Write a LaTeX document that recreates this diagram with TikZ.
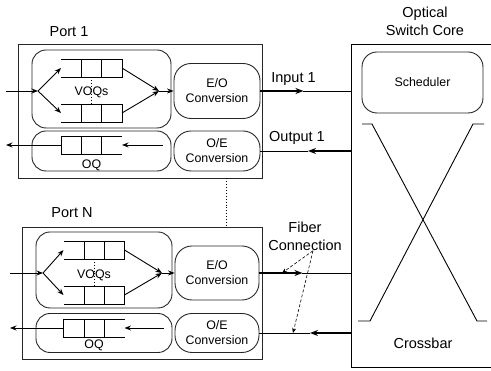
\documentclass[tikz,border=0pt]{standalone}
\usepackage{fontspec}
\setmainfont{Liberation Sans}
\usetikzlibrary{shapes.geometric, arrows.meta, positioning}
\tikzstyle{portbox} = [rectangle, draw=black!85, line width=0.9pt]
\tikzstyle{roundbox} = [rectangle, rounded corners=14pt, draw=black!85, line width=0.9pt]
\tikzstyle{convbox} = [rectangle, rounded corners=17pt, draw=black!85, line width=0.9pt, minimum width=86pt, align=center, inner sep=0pt, font=\fontsize{12.4}{15}\selectfont]
\tikzstyle{queue} = [rectangle, minimum width=61pt, minimum height=18pt, inner sep=0pt, outer sep=0pt]
\tikzstyle{biglabel} = [align=center, inner sep=0pt, font=\fontsize{14.5}{18}\selectfont]
\tikzstyle{smalllabel} = [inner sep=0pt, font=\fontsize{12.4}{15}\selectfont]
\tikzstyle{arrow} = [line width=0.9pt,->,>={Stealth[length=6.5pt,width=5pt]}]
\tikzstyle{fibre} = [line width=1.8pt,->,>={Stealth[length=8pt,width=6pt]}]
\tikzstyle{pointer} = [line width=0.6pt, dash pattern=on 3pt off 2pt, ->, >={Stealth[length=5pt,width=4pt]}]

\begin{document}
\begin{tikzpicture}[x=1pt, y=-1pt, line width=0.9pt]
    \useasboundingbox (0,0) rectangle (491,371);
    % Port 1
    \node (port1) [portbox, minimum width=244pt, minimum height=134pt] at (140,111) {};
    \node (port1lbl) [biglabel] at (69,32) {Port 1};
    \node (voq1) [roundbox, minimum width=139pt, minimum height=78pt] at (101.5,89) {};
    \node (oqbox1) [roundbox, minimum width=139pt, minimum height=40pt] at (101.5,151) {};
    \node (eo1) [convbox, minimum height=55pt] at (217,91) {E/O\\Conversion};
    \node (oe1) [convbox, minimum height=40pt] at (217,151) {O/E\\Conversion};
    \node (qa1) [queue] at (91.5,68) {};
    \node (qb1) [queue, below=27pt of qa1] {};
    \node (qo1) [queue] at (91.5,145) {};
    \draw (qa1.north west) -| (qa1.south east) -- (qa1.south west)
        ([xshift=20.5pt]qa1.north west) -- ([xshift=20.5pt]qa1.south west)
        ([xshift=40.5pt]qa1.north west) -- ([xshift=40.5pt]qa1.south west);
    \draw (qb1.north west) -| (qb1.south east) -- (qb1.south west)
        ([xshift=20.5pt]qb1.north west) -- ([xshift=20.5pt]qb1.south west)
        ([xshift=40.5pt]qb1.north west) -- ([xshift=40.5pt]qb1.south west);
    \draw (qo1.north east) -- (qo1.north west) -- (qo1.south west) -- (qo1.south east)
        ([xshift=20.5pt]qo1.north west) -- ([xshift=20.5pt]qo1.south west)
        ([xshift=40.5pt]qo1.north west) -- ([xshift=40.5pt]qo1.south west);
    \coordinate (in1) at (6,91);
    \coordinate (sp1) at (38,91);
    \coordinate (mg1) at (159,91);
    \draw [arrow] (in1) -- (sp1);
    \draw [arrow] (sp1) -- (qa1.west);
    \draw [arrow] (sp1) -- (qb1.west);
    \draw [arrow] (qa1.east) -- (mg1);
    \draw [arrow] (qb1.east) -- (mg1);
    \draw [arrow] (mg1) -- (eo1.west);
    \draw [dotted] (qa1.south) -- (qb1.north);
    \node (voqlbl1) [smalllabel] at (91.5,92.5) {VOQs};
    \coordinate (oqin1) at (163,145);
    \coordinate (out1) at (6,145);
    \draw [arrow] (oqin1) -- (qo1.east);
    \draw [arrow] (qo1.west) -- (out1);
    \node (oqlbl1) [smalllabel] at (91.5,165) {OQ};

    % Port N
    \node (portN) [portbox, minimum width=240pt, minimum height=132pt] at (142,293) {};
    \node (portNlbl) [biglabel] at (72,213) {Port N};
    \node (voqN) [roundbox, minimum width=136pt, minimum height=76pt] at (104,270) {};
    \node (oqboxN) [roundbox, minimum width=136pt, minimum height=39pt] at (104,333) {};
    \node (eoN) [convbox, minimum width=84pt, minimum height=54pt] at (217,273) {E/O\\Conversion};
    \node (oeN) [convbox, minimum width=84pt, minimum height=39pt] at (217,333) {O/E\\Conversion};
    \node (qaN) [queue] at (94,250) {};
    \node (qbN) [queue, below=27pt of qaN] {};
    \node (qoN) [queue] at (94,328) {};
    \draw (qaN.north west) -| (qaN.south east) -- (qaN.south west)
        ([xshift=20.5pt]qaN.north west) -- ([xshift=20.5pt]qaN.south west)
        ([xshift=40.5pt]qaN.north west) -- ([xshift=40.5pt]qaN.south west);
    \draw (qbN.north west) -| (qbN.south east) -- (qbN.south west)
        ([xshift=20.5pt]qbN.north west) -- ([xshift=20.5pt]qbN.south west)
        ([xshift=40.5pt]qbN.north west) -- ([xshift=40.5pt]qbN.south west);
    \draw (qoN.north east) -- (qoN.north west) -- (qoN.south west) -- (qoN.south east)
        ([xshift=20.5pt]qoN.north west) -- ([xshift=20.5pt]qoN.south west)
        ([xshift=40.5pt]qoN.north west) -- ([xshift=40.5pt]qoN.south west);
    \coordinate (inN) at (10,273);
    \coordinate (spN) at (43,273);
    \coordinate (mgN) at (162,273);
    \draw [arrow] (inN) -- (spN);
    \draw [arrow] (spN) -- (qaN.west);
    \draw [arrow] (spN) -- (qbN.west);
    \draw [arrow] (qaN.east) -- (mgN);
    \draw [arrow] (qbN.east) -- (mgN);
    \draw [arrow] (mgN) -- (eoN.west);
    \draw [dotted] (qaN.south) -- (qbN.north);
    \node (voqlblN) [smalllabel] at (94,275) {VOQs};
    \coordinate (oqinN) at (164,328);
    \coordinate (outN) at (10,328);
    \draw [arrow] (oqinN) -- (qoN.east);
    \draw [arrow] (qoN.west) -- (outN);
    \node (oqlblN) [smalllabel] at (94,345) {OQ};

    \draw [dotted] ([xshift=86pt]port1.south) -- ([xshift=86pt]port1.south |- portN.north);

    % switch core
    \node (core) [rectangle, outer sep=0pt, minimum width=140pt, minimum height=323pt] at (421,205.5) {};
    \draw (core.north east) -- (core.north west) -- (core.south west) -- (core.south east);
    \node (corelbl) [biglabel] at (425,21) {Optical\\Switch Core};
    \node (sched) [roundbox, rounded corners=15pt, smalllabel, minimum width=121pt, minimum height=61pt] at (422.5,82.5) {Scheduler};
    \draw (362,124) -- (372,124) -- (477,321) -- (487,321);
    \draw (484,124) -- (473,124) -- (370,321) -- (358,321);
    \node (xbarlbl) [biglabel] at (423,343) {Crossbar};

    % fibre links
    \draw [fibre] (eo1.east) -- ++(43,0) coordinate (i1m);
    \draw (i1m) -- (i1m -| core.west);
    \node (in1lbl) [biglabel] at (293.5,79.5) {Input 1};
    \draw [fibre] (core.west |- oe1.east) -- ++(-43,0) coordinate (o1m);
    \draw (o1m) -- (oe1.east);
    \node (out1lbl) [biglabel] at (297,137.5) {Output 1};
    \draw [fibre] (eoN.east) -- ++(43,0) coordinate (iNm);
    \draw (iNm) -- (iNm -| core.west);
    \draw [fibre] (core.west |- oeN.east) -- ++(-41,0) coordinate (oNm);
    \draw (oNm) -- (oeN.east);
    \node (fiber) [biglabel] at (305,236) {Fiber\\Connection};
    \coordinate (fa) at (282,273);
    \coordinate (fb) at (293,333);
    \draw [pointer] ([xshift=8pt]fiber.south) -- (fa);
    \draw [pointer] ([xshift=8pt]fiber.south) -- (fb);
\end{tikzpicture}
\end{document}
